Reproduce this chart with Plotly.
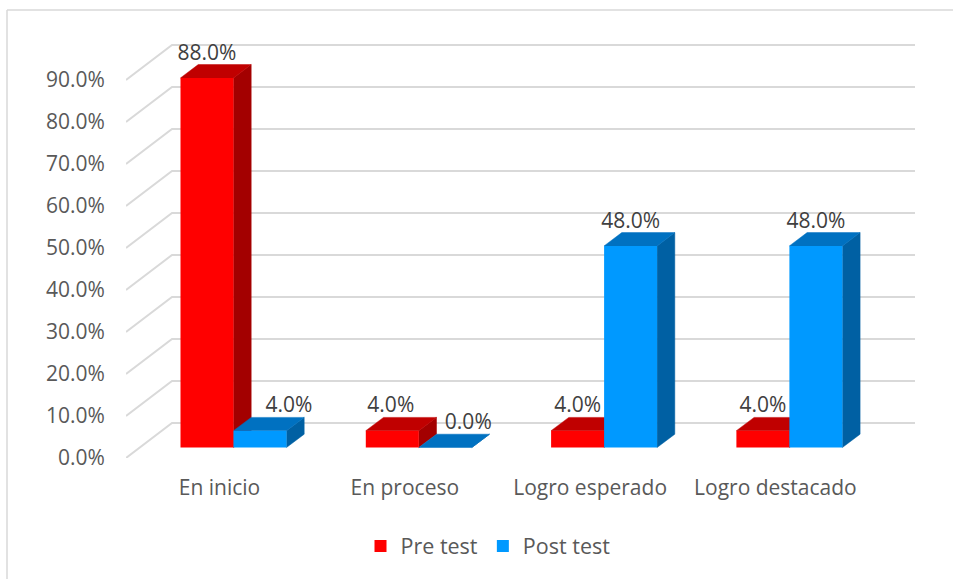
import plotly.graph_objects as go

categories = ["En inicio", "En proceso", "Logro esperado", "Logro destacado"]
pre_test = [88.0, 4.0, 4.0, 4.0]
post_test = [4.0, 0.0, 48.0, 48.0]
y_ticks = [0, 10, 20, 30, 40, 50, 60, 70, 80, 90]

W, H = 953, 579
PX_X = 185.3      # pixels per category
PX_Y = 4.2        # pixels per percent
LEFT, RIGHT, BOTTOM, TOP = 126, 915, 458, 30
X0 = 1 - (233.5 - LEFT) / PX_X
X1 = 1 + (RIGHT - 233.5) / PX_X
Y1 = (BOTTOM - TOP) / PX_Y

BASE = 10.5 / PX_Y             # bars stand mid-way on the floor
BAR_W = 53 / PX_X
DX, DY = 17.7 / PX_X, 13.3 / PX_Y     # bar depth
WALL_DX, WALL_DY = 46 / PX_X, 35 / PX_Y   # wall depth
LABEL_UP = 23.5 / PX_Y

RED, RED_TOP, RED_SIDE = "#FF0000", "#C00000", "#A30000"
BLUE, BLUE_TOP, BLUE_SIDE = "#0099FF", "#0071C1", "#0060A3"
GRID = "#D9D9D9"
FONT = "Open Sans"

fig = go.Figure()

# walls: each gridline runs along the side wall, then the back wall
gx, gy = [], []
for v in y_ticks:
    gx += [X0, X0 + WALL_DX, X1, None]
    gy += [v, v + WALL_DY, v + WALL_DY, None]
fig.add_trace(go.Scatter(x=gx, y=gy, mode="lines", line=dict(color=GRID, width=2),
                         showlegend=False, hoverinfo="skip"))


def faces(values, offset, top_color, side_color):
    sx, sy, tx, ty = [], [], [], []
    for i, v in enumerate(values):
        l = i + 1 + offset
        r = l + BAR_W
        t = BASE + v
        sx += [r, r + DX, r + DX, r, r, None]
        sy += [BASE, BASE + DY, t + DY, t, BASE, None]
        tx += [l, l + DX, r + DX, r, l, None]
        ty += [t, t + DY, t + DY, t, t, None]
    for x, y, c in ((sx, sy, side_color), (tx, ty, top_color)):
        fig.add_trace(go.Scatter(x=x, y=y, mode="lines", fill="toself", fillcolor=c,
                                 line=dict(color=c, width=0.5),
                                 showlegend=False, hoverinfo="skip"))


faces(pre_test, -BAR_W, RED_TOP, RED_SIDE)
faces(post_test, 0, BLUE_TOP, BLUE_SIDE)

xs = [i + 1 for i in range(len(categories))]
fig.add_trace(go.Bar(x=xs, y=pre_test, base=BASE, name="Pre test", marker=dict(color=RED, line_width=0),
                     xaxis="x2", yaxis="y2", hoverinfo="skip"))
fig.add_trace(go.Bar(x=xs, y=post_test, base=BASE, name="Post test", marker=dict(color=BLUE, line_width=0),
                     xaxis="x2", yaxis="y2", hoverinfo="skip"))

# data labels (two labels in the original sit beside their bar)
pre_shift = [0, -1.5, 0, 0]
post_shift = [29, 23, 0, 0]
lx = [x - BAR_W / 2 + s / PX_X for x, s in zip(xs, pre_shift)] + \
     [x + BAR_W / 2 + s / PX_X for x, s in zip(xs, post_shift)]
vals = pre_test + post_test
fig.add_trace(go.Scatter(x=lx, y=[BASE + v + LABEL_UP for v in vals], mode="text",
                         text=[f"{v:.1f}%" for v in vals], textposition="middle center",
                         textfont=dict(family=FONT, size=21, color="#404040"),
                         xaxis="x2", yaxis="y2", showlegend=False, hoverinfo="skip"))

x_dom = [LEFT / W, RIGHT / W]
y_dom = [(H - BOTTOM) / H, (H - TOP) / H]
fig.update_layout(
    width=W, height=H, margin=dict(l=0, r=0, t=0, b=0, autoexpand=False),
    paper_bgcolor="white", plot_bgcolor="white",
    barmode="group", bargap=1 - 2 * BAR_W, bargroupgap=0,
    font=dict(family=FONT, size=21, color="#595959"),
    xaxis=dict(domain=x_dom, range=[X0, X1], showgrid=False, zeroline=False, showline=False,
               tickmode="array", tickvals=[x - 14 / PX_X for x in xs], ticktext=categories,
               ticks="outside", ticklen=11, tickcolor="rgba(0,0,0,0)",
               tickfont=dict(family=FONT, size=21, color="#595959")),
    yaxis=dict(domain=y_dom, range=[0, Y1], showgrid=False, zeroline=False, showline=False,
               tickmode="array", tickvals=y_ticks, ticktext=[f"{v:.1f}%" for v in y_ticks],
               ticks="outside", ticklen=16, tickcolor="rgba(0,0,0,0)",
               tickfont=dict(family=FONT, size=21, color="#595959")),
    xaxis2=dict(domain=x_dom, range=[X0, X1], overlaying="x", visible=False),
    yaxis2=dict(domain=y_dom, range=[0, Y1], overlaying="y", visible=False),
    showlegend=True,
    legend=dict(orientation="h", x=488 / W, xanchor="center", y=(H - 546) / H, yanchor="middle",
                font=dict(family=FONT, size=21.5, color="#595959"), bgcolor="rgba(0,0,0,0)",
                itemwidth=30),
    shapes=[
        dict(type="line", xref="paper", yref="paper", x0=7 / W, x1=7 / W, y0=0, y1=(H - 10) / H,
             line=dict(color=GRID, width=1.5), layer="below"),
        dict(type="line", xref="paper", yref="paper", x0=7 / W, x1=1, y0=(H - 10) / H, y1=(H - 10) / H,
             line=dict(color=GRID, width=1.5), layer="below"),
    ],
)
fig.write_html("out.html", config={"displayModeBar": False},
               post_script="document.body.style.margin='0';")
